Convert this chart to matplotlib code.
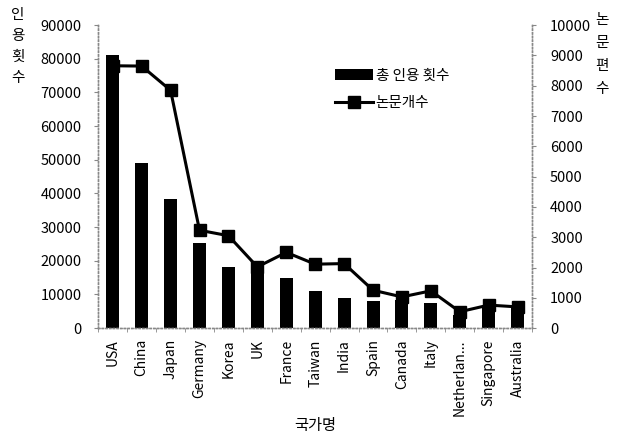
import numpy as np
import matplotlib.pyplot as plt
from matplotlib.ticker import FixedLocator

plt.rcParams['font.family'] = ['Noto Sans CJK KR', 'DejaVu Sans']

# 데이터
countries = ['USA', 'China', 'Japan', 'Germany', 'Korea', 'UK', 'France', 'Taiwan',
             'India', 'Spain', 'Canada', 'Italy', 'Netherlan...', 'Singapore', 'Australia']
citations = [81000, 49200, 38300, 25400, 18100, 18500, 14800, 10900,
             9000, 8100, 8300, 7500, 4000, 6000, 6300]
papers = [8660, 8650, 7850, 3230, 3050, 2020, 2500, 2110,
          2130, 1250, 1030, 1230, 540, 760, 700]

x = np.arange(len(countries))

fig = plt.figure(figsize=(6.26, 4.34), dpi=100)
ax = fig.add_axes([0.157, 0.244, 0.693, 0.698])
ax2 = ax.twinx()

bars = ax.bar(x, citations, width=0.45, color='black', label='총 인용 횟수', zorder=2)
line, = ax2.plot(x, papers, color='black', linewidth=2.2, marker='s', markersize=8,
                 label='논문개수', zorder=3)

ax.set_xlim(-0.5, len(countries) - 0.5)
ax.set_ylim(0, 90000)
ax2.set_ylim(0, 10000)
ax.set_yticks(range(0, 90001, 10000))
ax2.set_yticks(range(0, 10001, 1000))

ax.set_xticks(x)
ax.set_xticklabels(countries, rotation=90, fontsize=10)
ax.tick_params(axis='x', length=0, pad=8)
ax.xaxis.set_minor_locator(FixedLocator(np.arange(-0.5, len(countries), 1)))
ax.tick_params(axis='x', which='minor', length=3, color='#888888', direction='out')
ax.tick_params(axis='y', labelsize=10.5, length=3, color='#888888', pad=9)
ax2.tick_params(axis='y', labelsize=10.5, length=3, color='#888888', pad=10)

for a in (ax, ax2):
    a.spines['top'].set_visible(False)
    for s in ('left', 'right', 'bottom'):
        a.spines[s].set_color('#888888')
        a.spines[s].set_linestyle(':')
        a.spines[s].set_linewidth(1)

# 세로로 쓴 축 제목 (한 글자씩)
for i, ch in enumerate('인용횟수'):
    fig.text(0.029, 1 - (15 + i * 21) / 434, ch, fontsize=10.5, ha='center', va='center')
for i, ch in enumerate('논문편수'):
    fig.text(0.962, 1 - (20 + i * 23) / 434, ch, fontsize=10.5, ha='center', va='center')
fig.text(0.503, 0.0, '국가명', fontsize=11, ha='center', va='bottom')

ax.legend([bars, line], ['총 인용 횟수', '논문개수'], loc='upper left',
          bbox_to_anchor=(0.515, 0.9), frameon=False, fontsize=10.5,
          handlelength=2.6, labelspacing=0.9, handletextpad=0.2)

fig.savefig('out.png', dpi=100)
